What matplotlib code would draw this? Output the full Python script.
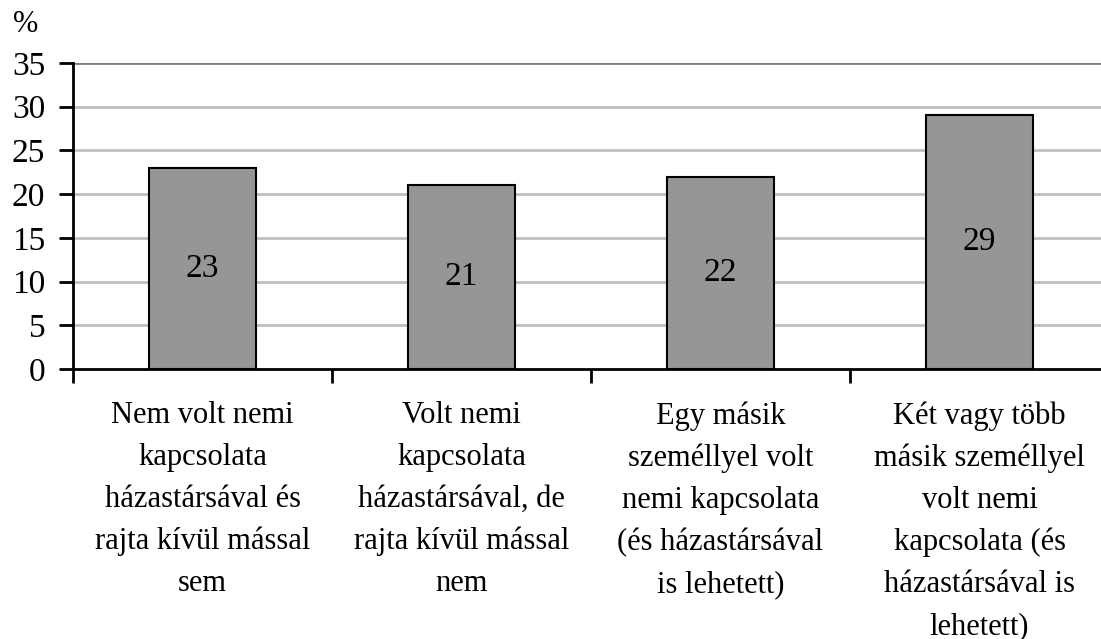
import matplotlib
matplotlib.use("Agg")
import matplotlib.pyplot as plt
import numpy as np

categories = [
    "Nem volt nemi\nkapcsolata\nházastársával és\nrajta kívül mással\nsem",
    "Volt nemi\nkapcsolata\nházastársával, de\nrajta kívül mással\nnem",
    "Egy másik\nszeméllyel volt\nnemi kapcsolata\n(és házastársával\nis lehetett)",
    "Két vagy több\nmásik személlyel\nvolt nemi\nkapcsolata (és\nházastársával is\nlehetett)",
]
values = [23, 21, 22, 29]
yticks = [0, 5, 10, 15, 20, 25, 30, 35]

plt.rcParams['font.family'] = ['Liberation Serif', 'DejaVu Serif']

W, H = 1101, 639
fig = plt.figure(figsize=(W / 100, H / 100), dpi=100)
left, right, top, bottom = 73, 1109, 63, 369
ax = fig.add_axes([left / W, 1 - bottom / H, (right - left) / W, (bottom - top) / H])

x = np.arange(len(values))
ax.bar(x, values, width=0.41, color="#969696", edgecolor="black", linewidth=1.5, zorder=3)
for xi, v in zip(x, values):
    ax.text(xi, v / 2, str(v), ha="center", va="center", fontsize=24, zorder=4)

ax.set_xlim(-0.5, len(values) - 0.5)
ax.set_ylim(0, 35)
ax.set_yticks(yticks)
ax.set_yticklabels([str(t) for t in yticks], fontsize=24)
for t in yticks[1:]:
    ax.axhline(t, color="#808080" if t == 35 else "#c0c0c0", linewidth=2, zorder=1)

ax.set_xticks(np.arange(len(values) + 1) - 0.5)
ax.set_xticklabels([])
ax.tick_params(axis="x", direction="out", length=10, width=2)
ax.tick_params(axis="y", direction="out", length=10, width=2, pad=10)
for xi, lab in zip(x, categories):
    ax.text(xi, -0.105, lab, transform=ax.get_xaxis_transform(), ha="center", va="top",
            fontsize=22, linespacing=1.58)

ax.spines["top"].set_visible(False)
ax.spines["right"].set_visible(False)
ax.spines["left"].set_linewidth(2)
ax.spines["bottom"].set_linewidth(2)

fig.text(13 / W, 1 - 24 / H, "%", fontsize=22, ha="left", va="center")

fig.savefig("out.png", dpi=100)
